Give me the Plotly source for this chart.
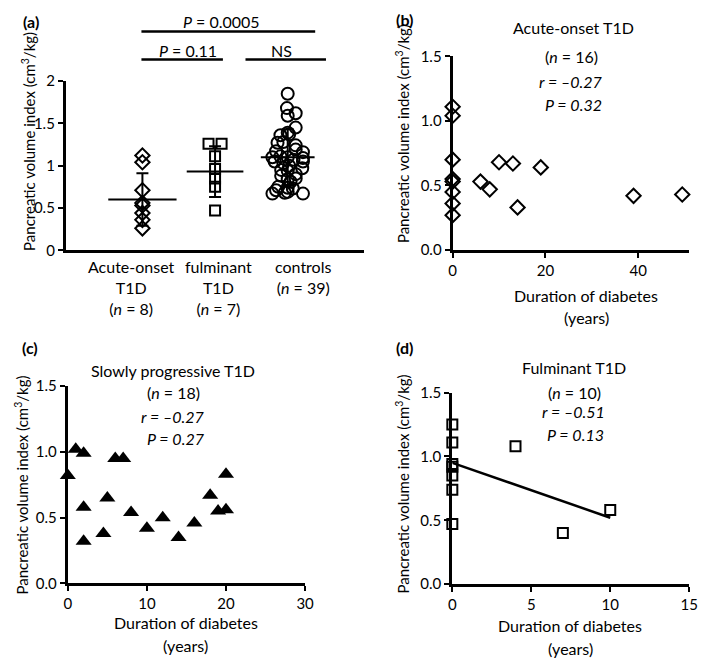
import plotly.graph_objects as go

# ---------------- data ----------------
# (a) group comparison
acute_vals = [1.12, 1.04, 0.71, 0.56, 0.53, 0.44, 0.36, 0.26]
fulm_vals = [1.26, 1.26, 1.11, 0.96, 0.85, 0.75, 0.47]
ctrl_vals = [1.85, 1.68, 1.62, 1.59, 1.45, 1.39, 1.36, 1.37, 1.27, 1.28,
             1.24, 1.16, 1.19, 1.17, 1.10, 1.11, 1.10, 1.09, 1.05, 1.07,
             1.05, 1.03, 1.00, 0.95, 0.97, 0.94, 0.90, 0.88, 0.84, 0.85,
             0.81, 0.75, 0.71, 0.67, 0.74, 0.69, 0.73, 0.67, 0.68]
group_means = [0.60, 0.93, 1.10]
group_sds = [0.31, 0.30, 0.33]
group_labels = ["Acute-onset<br>T1D<br>(<i>n</i> = 8)",
                "fulminant<br>T1D<br>(<i>n</i> = 7)",
                "controls<br>(<i>n</i> = 39)"]

# horizontal scatter (jitter) of the dots, in category units
acute_jit = [0, 0, 0, 0, 0, 0, 0, 0]
fulm_jit = [-0.09, 0.09, 0, 0, 0, 0, 0]
ctrl_jit = [0.00, -0.01, 0.11, 0.00, 0.11, 0.00, -0.10, 0.02, -0.14, -0.06,
            0.11, 0.21, 0.11, -0.16, -0.21, -0.10, 0.00, 0.21, -0.18, 0.08,
            0.21, -0.06, 0.02, -0.09, 0.20, 0.00, 0.11, -0.09, 0.00, 0.11,
            0.04, -0.13, -0.16, -0.21, 0.00, 0.00, 0.07, 0.21, -0.04]

# (b) acute-onset T1D vs duration
b_dur = [0, 0, 0, 0, 0, 0, 0, 0, 6, 8, 10, 13, 14, 19, 39, 49.5]
b_pvi = [1.11, 1.04, 0.70, 0.55, 0.53, 0.45, 0.36, 0.27,
         0.53, 0.47, 0.68, 0.67, 0.33, 0.64, 0.42, 0.43]

# (c) slowly progressive T1D vs duration
c_dur = [0, 1, 2, 2, 2, 4.5, 5, 6, 7, 8, 10, 12, 14, 16, 18, 19, 20, 20]
c_pvi = [0.82, 1.02, 0.99, 0.58, 0.32, 0.38, 0.65, 0.95, 0.95, 0.54,
         0.42, 0.50, 0.35, 0.46, 0.67, 0.55, 0.83, 0.56]

# (d) fulminant T1D vs duration
d_dur = [0, 0, 0, 0, 0, 0, 0, 4, 7, 10]
d_pvi = [1.25, 1.11, 0.94, 0.92, 0.85, 0.74, 0.47, 1.08, 0.40, 0.58]
d_fit_x = [0, 10]
d_fit_y = [0.95, 0.52]

# ---------------- layout helpers ----------------
W, H = 709, 666
FONT = "Lato"
FS = 16
TFS = 15
YTFS = 15


def px(x):
    return x / W


def py(y):
    return 1 - y / H


fig = go.Figure()

# ---- panel (a)
mk = dict(color="black", line=dict(color="black", width=2))
fig.add_trace(go.Scatter(x=[0 + j for j in acute_jit], y=acute_vals, mode="markers",
                         marker=dict(symbol="diamond-open", size=11, **mk),
                         xaxis="x", yaxis="y", cliponaxis=False, showlegend=False))
fig.add_trace(go.Scatter(x=[1 + j for j in fulm_jit], y=fulm_vals, mode="markers",
                         marker=dict(symbol="square-open", size=10, **mk),
                         xaxis="x", yaxis="y", cliponaxis=False, showlegend=False))
fig.add_trace(go.Scatter(x=[2 + j for j in ctrl_jit], y=ctrl_vals, mode="markers",
                         marker=dict(symbol="circle-open", size=12, **mk),
                         xaxis="x", yaxis="y", cliponaxis=False, showlegend=False))
# error bars (mean +/- SD)
fig.add_trace(go.Scatter(x=[0, 1, 2], y=group_means, mode="markers",
                         marker=dict(size=1, color="rgba(0,0,0,0)"),
                         error_y=dict(type="data", array=group_sds, visible=True,
                                      color="black", thickness=2, width=6),
                         xaxis="x", yaxis="y", showlegend=False))
half_w = [0.47, 0.39, 0.37]
for i, m in enumerate(group_means):
    fig.add_trace(go.Scatter(x=[i - half_w[i], i + half_w[i]], y=[m, m], mode="lines",
                             line=dict(color="black", width=2),
                             xaxis="x", yaxis="y", showlegend=False))

# ---- panel (b)
fig.add_trace(go.Scatter(x=b_dur, y=b_pvi, mode="markers",
                         marker=dict(symbol="diamond-open", size=11, **mk),
                         xaxis="x2", yaxis="y2", cliponaxis=False, showlegend=False))
# ---- panel (c)
fig.add_trace(go.Scatter(x=c_dur, y=c_pvi, mode="markers",
                         marker=dict(symbol="triangle-up", size=14, color="black"),
                         xaxis="x3", yaxis="y3", cliponaxis=False, showlegend=False))
# ---- panel (d)
fig.add_trace(go.Scatter(x=d_fit_x, y=d_fit_y, mode="lines",
                         line=dict(color="black", width=2.5),
                         xaxis="x4", yaxis="y4", showlegend=False))
fig.add_trace(go.Scatter(x=d_dur, y=d_pvi, mode="markers",
                         marker=dict(symbol="square-open", size=10, **mk),
                         xaxis="x4", yaxis="y4", cliponaxis=False, showlegend=False))

axis_common = dict(showline=True, linecolor="black", linewidth=3, showgrid=False,
                   zeroline=False, ticks="outside", ticklen=5, tickwidth=2,
                   tickcolor="black", tickfont=dict(family=FONT, size=TFS, color="black"))

fig.update_layout(
    width=W, height=H, margin=dict(l=0, r=0, t=0, b=0),
    paper_bgcolor="white", plot_bgcolor="white", showlegend=False,
    font=dict(family=FONT, size=FS, color="black"),
    xaxis=dict(axis_common, domain=[px(63), px(367)], range=[-1.054, 3.054],
               showticklabels=False, ticks="", anchor="y"),
    yaxis=dict(axis_common, domain=[py(247), py(73)], range=[0, 2],
               tickvals=[0, 0.5, 1, 1.5, 2], ticktext=["0", "0.5", "1", "1.5", "2"],
               anchor="x"),
    xaxis2=dict(axis_common, domain=[px(457), px(698)], range=[0, 51],
                tickvals=[0, 20, 40], anchor="y2"),
    yaxis2=dict(axis_common, domain=[py(246.7), py(47.7)], range=[0, 1.5],
                tickvals=[0, 0.5, 1.0, 1.5], tickformat=".1f", anchor="x2"),
    xaxis3=dict(axis_common, domain=[px(65), px(306.7)], range=[0, 30],
                tickvals=[0, 10, 20, 30], anchor="y3"),
    yaxis3=dict(axis_common, domain=[py(589.3), py(386.7)], range=[0, 1.5],
                tickvals=[0, 0.5, 1.0, 1.5], tickformat=".1f", anchor="x3"),
    xaxis4=dict(axis_common, domain=[px(456.7), px(698)], range=[0, 15],
                tickvals=[0, 5, 10, 15], anchor="y4"),
    yaxis4=dict(axis_common, domain=[py(590), py(393.3)], range=[0, 1.5],
                tickvals=[0, 0.5, 1.0, 1.5], tickformat=".1f", anchor="x4"),
)

ann = []


def add_text(text, x, y, size=FS, angle=0, xanchor="center", yanchor="middle"):
    ann.append(dict(text=text, x=px(x), y=py(y), xref="paper", yref="paper",
                    showarrow=False, textangle=angle, xanchor=xanchor, yanchor=yanchor,
                    font=dict(family=FONT, size=size, color="black")))


# panel labels
add_text("<b>(a)</b>", 27, 12)
add_text("<b>(b)</b>", 408, 10)
add_text("<b>(c)</b>", 26, 347)
add_text("<b>(d)</b>", 408, 347)

# (a) significance texts
add_text("<i>P</i> = 0.0005", 222, 12)
add_text("<i>P</i> = 0.11", 187, 42)
add_text("NS", 283, 42)

# (a) category labels
for lab, cx in zip(group_labels, [130, 218, 305]):
    add_text(lab, cx, 252, yanchor="top")

ytitle = "Pancreatic volume index (cm<sup>3</sup>/kg)"
add_text(ytitle, 25, 135, size=YTFS, angle=-90)
add_text(ytitle, 406, 127, size=YTFS, angle=-90)
add_text(ytitle, 18, 488, size=YTFS, angle=-90)
add_text(ytitle, 406, 487, size=YTFS, angle=-90)

# x titles
for cx, y1, y2 in [(593, 293, 316), (185, 630, 653), (577, 633, 656)]:
    add_text("Duration of diabetes", cx, y1)
    add_text("(years)", cx, y2)

# panel headers
add_text("Acute-onset T1D", 580, 18)
add_text("(<i>n</i> = 16)", 578, 48)
add_text("<i>r = –0.27</i>", 578, 73)
add_text("<i>P = 0.32</i>", 580, 97)

add_text("Slowly progressive T1D", 172, 370)
add_text("(<i>n</i> = 18)", 173, 393)
add_text("<i>r = –0.27</i>", 172, 418)
add_text("<i>P = 0.27</i>", 175, 440)

add_text("Fulminant T1D", 581, 367)
add_text("(<i>n</i> = 10)", 581, 393)
add_text("<i>r = –0.51</i>", 580, 413)
add_text("<i>P = 0.13</i>", 582, 436)

fig.update_layout(annotations=ann)

# significance bars in (a)
shapes = []
for x0, x1, y in [(140, 317, 22), (140, 223, 51), (246, 328, 51)]:
    shapes.append(dict(type="line", xref="paper", yref="paper",
                       x0=px(x0), x1=px(x1), y0=py(y), y1=py(y),
                       line=dict(color="black", width=2.5)))
fig.update_layout(shapes=shapes)

fig.write_html("out.html", config={"displayModeBar": False},
               post_script="document.body.style.margin='0';document.body.style.overflow='hidden';")
